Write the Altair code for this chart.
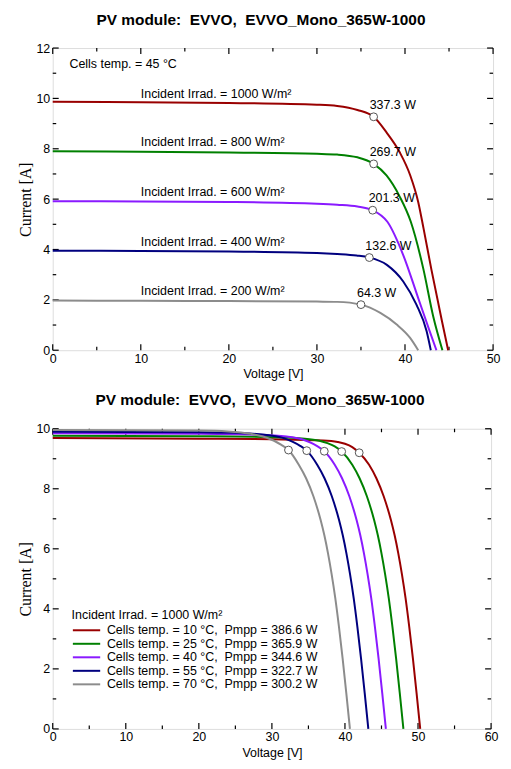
import altair as alt
import pandas as pd

# ---------------- top panel: cells temp 45 °C, various irradiances ----------------
top_series = ["1000", "800", "600", "400", "200"]
top_colors = ["#990000", "#008000", "#8a1aff", "#00007f", "#8c8c8c"]

top_v_1000 = [0, 10, 20, 30, 32.3, 34.6, 36.44, 37.9, 39.4, 40.6, 41.5, 42.1, 43.0, 44.2, 44.9]
top_i_1000 = [9.87, 9.85, 9.82, 9.75, 9.70, 9.54, 9.27, 8.65, 7.86, 6.94, 5.89, 4.85, 3.20, 1.15, 0]
top_v_800 = [0, 10, 20, 30, 32.3, 34.6, 36.44, 37.9, 39.4, 40.66, 42.07, 43.2, 44.25]
top_i_800 = [7.90, 7.88, 7.85, 7.80, 7.77, 7.66, 7.40, 6.94, 6.10, 5.10, 3.25, 1.35, 0]
top_v_600 = [0, 10, 20, 30, 32.3, 34.6, 36.33, 38.0, 39.8, 41.5, 42.8, 43.57]
top_i_600 = [5.92, 5.91, 5.89, 5.82, 5.78, 5.71, 5.56, 5.10, 3.78, 2.07, 0.76, 0]
top_v_400 = [0, 10, 20, 30, 32.3, 34.5, 35.95, 37.94, 39.8, 41.3, 42.45, 42.93]
top_i_400 = [3.95, 3.94, 3.92, 3.86, 3.82, 3.76, 3.68, 3.39, 2.73, 1.81, 0.76, 0]
top_v_200 = [0, 10, 20, 30, 32.3, 35.0, 37.2, 39.06, 40.56, 41.5]
top_i_200 = [1.97, 1.96, 1.95, 1.93, 1.92, 1.81, 1.48, 1.02, 0.50, 0]

top_mpp_v = [36.44, 36.44, 36.33, 35.95, 35.0]
top_mpp_i = [9.27, 7.40, 5.56, 3.68, 1.81]
top_mpp_text = ["337.3 W", "269.7 W", "201.3 W", "132.6 W", "64.3 W"]

top_irr_text = ["Incident Irrad. = 1000 W/m²", "Incident Irrad. = 800 W/m²",
                "Incident Irrad. = 600 W/m²", "Incident Irrad. = 400 W/m²",
                "Incident Irrad. = 200 W/m²"]
top_irr_v = [10.0, 10.0, 10.0, 10.0, 10.0]
top_irr_i = [10.19, 8.25, 6.28, 4.28, 2.34]

top_note_text = ["Cells temp. = 45 °C"]
top_note_v = [1.9]
top_note_i = [11.37]

top_x_major = [0, 10, 20, 30, 40, 50]
top_x_minor = [5, 15, 25, 35, 45]
top_y_major = [0, 2, 4, 6, 8, 10, 12]
top_y_minor = [1, 3, 5, 7, 9, 11]

# ---------------- bottom panel: 1000 W/m², various cell temps ----------------
bot_labels = ["Cells temp. = 10 °C,\u00a0 Pmpp = 386.6 W",
              "Cells temp. = 25 °C,\u00a0 Pmpp = 365.9 W",
              "Cells temp. = 40 °C,\u00a0 Pmpp = 344.6 W",
              "Cells temp. = 55 °C,\u00a0 Pmpp = 322.7 W",
              "Cells temp. = 70 °C,\u00a0 Pmpp = 300.2 W"]
bot_colors = ["#990000", "#008000", "#8a1aff", "#00007f", "#8c8c8c"]

bot_v_10 = [0, 20, 30, 37, 39, 40, 41, 41.95, 43.3, 44.3, 45.3, 46.3, 46.8, 47.3, 47.8, 48.3, 48.8, 49.3, 49.8, 50.3]
bot_i_10 = [9.69, 9.67, 9.65, 9.61, 9.56, 9.50, 9.39, 9.20, 8.8, 8.35, 7.75, 6.95, 6.45, 5.85, 5.15, 4.35, 3.4, 2.35, 1.2, 0]
bot_v_25 = [0, 20, 30, 34.5, 36.5, 37.6, 38.6, 39.55, 41.0, 42.0, 43.0, 44.0, 44.5, 45.0, 45.5, 46.0, 46.5, 47.0, 47.5, 48.0]
bot_i_25 = [9.77, 9.75, 9.72, 9.67, 9.60, 9.52, 9.41, 9.24, 8.8, 8.35, 7.75, 6.95, 6.45, 5.85, 5.15, 4.35, 3.4, 2.35, 1.2, 0]
bot_v_40 = [0, 20, 28, 32, 34.1, 35.2, 36.2, 37.17, 38.6, 39.6, 40.6, 41.6, 42.1, 42.6, 43.1, 43.6, 44.1, 44.6, 45.1, 45.6]
bot_i_40 = [9.85, 9.83, 9.80, 9.74, 9.65, 9.55, 9.42, 9.25, 8.8, 8.35, 7.75, 6.95, 6.45, 5.85, 5.15, 4.35, 3.4, 2.35, 1.2, 0]
bot_v_55 = [0, 20, 26, 29.6, 31.7, 32.8, 33.8, 34.77, 36.2, 37.2, 38.2, 39.2, 39.7, 40.2, 40.7, 41.2, 41.7, 42.2, 42.7, 43.2]
bot_i_55 = [9.90, 9.88, 9.85, 9.78, 9.68, 9.57, 9.44, 9.27, 8.8, 8.35, 7.75, 6.95, 6.45, 5.85, 5.15, 4.35, 3.4, 2.35, 1.2, 0]
bot_v_70 = [0, 20, 24, 27.1, 29.2, 30.3, 31.3, 32.27, 33.68, 34.68, 35.68, 36.68, 37.18, 37.68, 38.18, 38.68, 39.18, 39.68, 40.18, 40.68]
bot_i_70 = [9.96, 9.94, 9.91, 9.83, 9.71, 9.60, 9.46, 9.29, 8.8, 8.35, 7.75, 6.95, 6.45, 5.85, 5.15, 4.35, 3.4, 2.35, 1.2, 0]

bot_mpp_v = [41.95, 39.55, 37.17, 34.77, 32.27]
bot_mpp_i = [9.20, 9.24, 9.25, 9.27, 9.29]

bot_x_major = [0, 10, 20, 30, 40, 50, 60]
bot_x_minor = [5, 15, 25, 35, 45, 55]
bot_y_major = [0, 2, 4, 6, 8, 10]
bot_y_minor = [1, 3, 5, 7, 9]

TITLE = "PV module:\u00a0 EVVO,\u00a0 EVVO_Mono_365W-1000"
SANS = "Liberation Sans"
SERIF = "Liberation Serif"
FS = 12.5


def curves_df(names, vs, is_):
    rows = []
    for n, v, i in zip(names, vs, is_):
        for a, b in zip(v, i):
            rows.append({"series": n, "V": a, "I": b})
    return pd.DataFrame(rows)


def panel(df_lines, color_domain, color_range, legend, mpp_v, mpp_i, xdom, ydom,
          xmaj, xmin, ymaj, ymin, W, H, extra_layers_fn):
    xs = alt.Scale(domain=xdom, nice=False, zero=False)
    ys = alt.Scale(domain=ydom, nice=False, zero=False)
    xaxis = alt.Axis(values=xmaj, ticks=False, domain=False, grid=False, title="Voltage [V]",
                     labelFontSize=FS, labelPadding=2, titleFontSize=FS, titleFont=SANS,
                     titleFontWeight="normal", titlePadding=3, labelColor="black", titleColor="black",
                     labelFlush=False)
    yaxis = alt.Axis(values=ymaj, ticks=False, domain=False, grid=False, title="Current [A]",
                     labelFontSize=FS, labelPadding=3, titleFontSize=16, titleFont=SERIF,
                     titleFontWeight="normal", titlePadding=2, labelColor="black", titleColor="black",
                     labelFlush=False)

    def X(f):
        return alt.X(f, type="quantitative", scale=xs, axis=xaxis)

    def Y(f):
        return alt.Y(f, type="quantitative", scale=ys, axis=yaxis)

    lines = alt.Chart(df_lines).mark_line(interpolate="monotone", strokeWidth=2).encode(
        x=X("V"), y=Y("I"),
        color=alt.Color("series:N", scale=alt.Scale(domain=color_domain, range=color_range),
                        legend=legend, sort=color_domain),
        detail="series:N",
    )
    mpp = alt.Chart(pd.DataFrame({"V": mpp_v, "I": mpp_i})).mark_point(
        shape="circle", filled=True, fill="white", stroke="#555555", strokeWidth=1,
        size=62, opacity=1).encode(x=X("V"), y=Y("I"))

    tx_maj = pd.DataFrame({"t": xmaj})
    tx_min = pd.DataFrame({"t": xmin})
    ty_maj = pd.DataFrame({"t": ymaj})
    ty_min = pd.DataFrame({"t": ymin})
    tick_style = dict(color="black", strokeWidth=1.2)
    ticks = [
        alt.Chart(tx_maj).mark_rule(**tick_style).encode(x=X("t"), y=alt.value(H), y2=alt.value(H - 6)),
        alt.Chart(tx_maj).mark_rule(**tick_style).encode(x=X("t"), y=alt.value(0), y2=alt.value(6)),
        alt.Chart(tx_min).mark_rule(**tick_style).encode(x=X("t"), y=alt.value(H), y2=alt.value(H - 3.5)),
        alt.Chart(tx_min).mark_rule(**tick_style).encode(x=X("t"), y=alt.value(0), y2=alt.value(3.5)),
        alt.Chart(ty_maj).mark_rule(**tick_style).encode(y=Y("t"), x=alt.value(0), x2=alt.value(6)),
        alt.Chart(ty_maj).mark_rule(**tick_style).encode(y=Y("t"), x=alt.value(W), x2=alt.value(W - 6)),
        alt.Chart(ty_min).mark_rule(**tick_style).encode(y=Y("t"), x=alt.value(0), x2=alt.value(3.5)),
        alt.Chart(ty_min).mark_rule(**tick_style).encode(y=Y("t"), x=alt.value(W), x2=alt.value(W - 3.5)),
    ]
    extras = extra_layers_fn(X, Y)
    layer = alt.layer(*ticks, lines, mpp, *extras).properties(
        width=W, height=H,
        title=alt.TitleParams(TITLE, fontSize=15.5, font=SANS, fontWeight="bold", color="black",
                              anchor="middle", offset=14, dx=-12),
    )
    return layer


# top panel
df_top = curves_df(top_series,
                   [top_v_1000, top_v_800, top_v_600, top_v_400, top_v_200],
                   [top_i_1000, top_i_800, top_i_600, top_i_400, top_i_200])


def top_extras(X, Y):
    t1 = alt.Chart(pd.DataFrame({"V": top_mpp_v, "I": top_mpp_i, "txt": top_mpp_text})).mark_text(
        align="left", baseline="middle", dx=-4, dy=-12, fontSize=FS, font=SANS, color="black"
    ).encode(x=X("V"), y=Y("I"), text="txt:N")
    t2 = alt.Chart(pd.DataFrame({"V": top_irr_v, "I": top_irr_i, "txt": top_irr_text})).mark_text(
        align="left", baseline="middle", fontSize=FS, font=SANS, color="black"
    ).encode(x=X("V"), y=Y("I"), text="txt:N")
    t3 = alt.Chart(pd.DataFrame({"V": top_note_v, "I": top_note_i, "txt": top_note_text})).mark_text(
        align="left", baseline="middle", fontSize=FS, font=SANS, color="black"
    ).encode(x=X("V"), y=Y("I"), text="txt:N")
    return [t1, t2, t3]


top = panel(df_top, top_series, top_colors, None, top_mpp_v, top_mpp_i, [0, 50], [0, 12],
            top_x_major, top_x_minor, top_y_major, top_y_minor, 443, 304, top_extras)

# bottom panel
df_bot = curves_df(bot_labels,
                   [bot_v_10, bot_v_25, bot_v_40, bot_v_55, bot_v_70],
                   [bot_i_10, bot_i_25, bot_i_40, bot_i_55, bot_i_70])

bot_legend = alt.Legend(
    title="Incident Irrad. = 1000 W/m²", orient="none", legendX=19, legendY=181,
    titleFontSize=FS, titleFontWeight="normal", titleColor="black", titleFont=SANS,
    labelFontSize=FS, labelColor="black", labelFont=SANS, labelLimit=400,
    symbolType="M-1,0H4.5", symbolStrokeWidth=2, symbolSize=100, rowPadding=0.6,
    labelOffset=23, titlePadding=3, padding=0,
)

bottom = panel(df_bot, bot_labels, bot_colors, bot_legend, bot_mpp_v, bot_mpp_i, [0, 60], [0, 10],
               bot_x_major, bot_x_minor, bot_y_major, bot_y_minor, 441, 302, lambda X, Y: [])

chart = alt.vconcat(top, bottom, spacing=12).resolve_scale(color="independent").properties(
    padding={"left": 9, "top": 2, "right": 2, "bottom": 2},
    background="white",
).configure_view(stroke="black", strokeWidth=1.6).configure(font=SANS)

chart.save("out.html", embed_options={"renderer": "svg", "actions": False})
